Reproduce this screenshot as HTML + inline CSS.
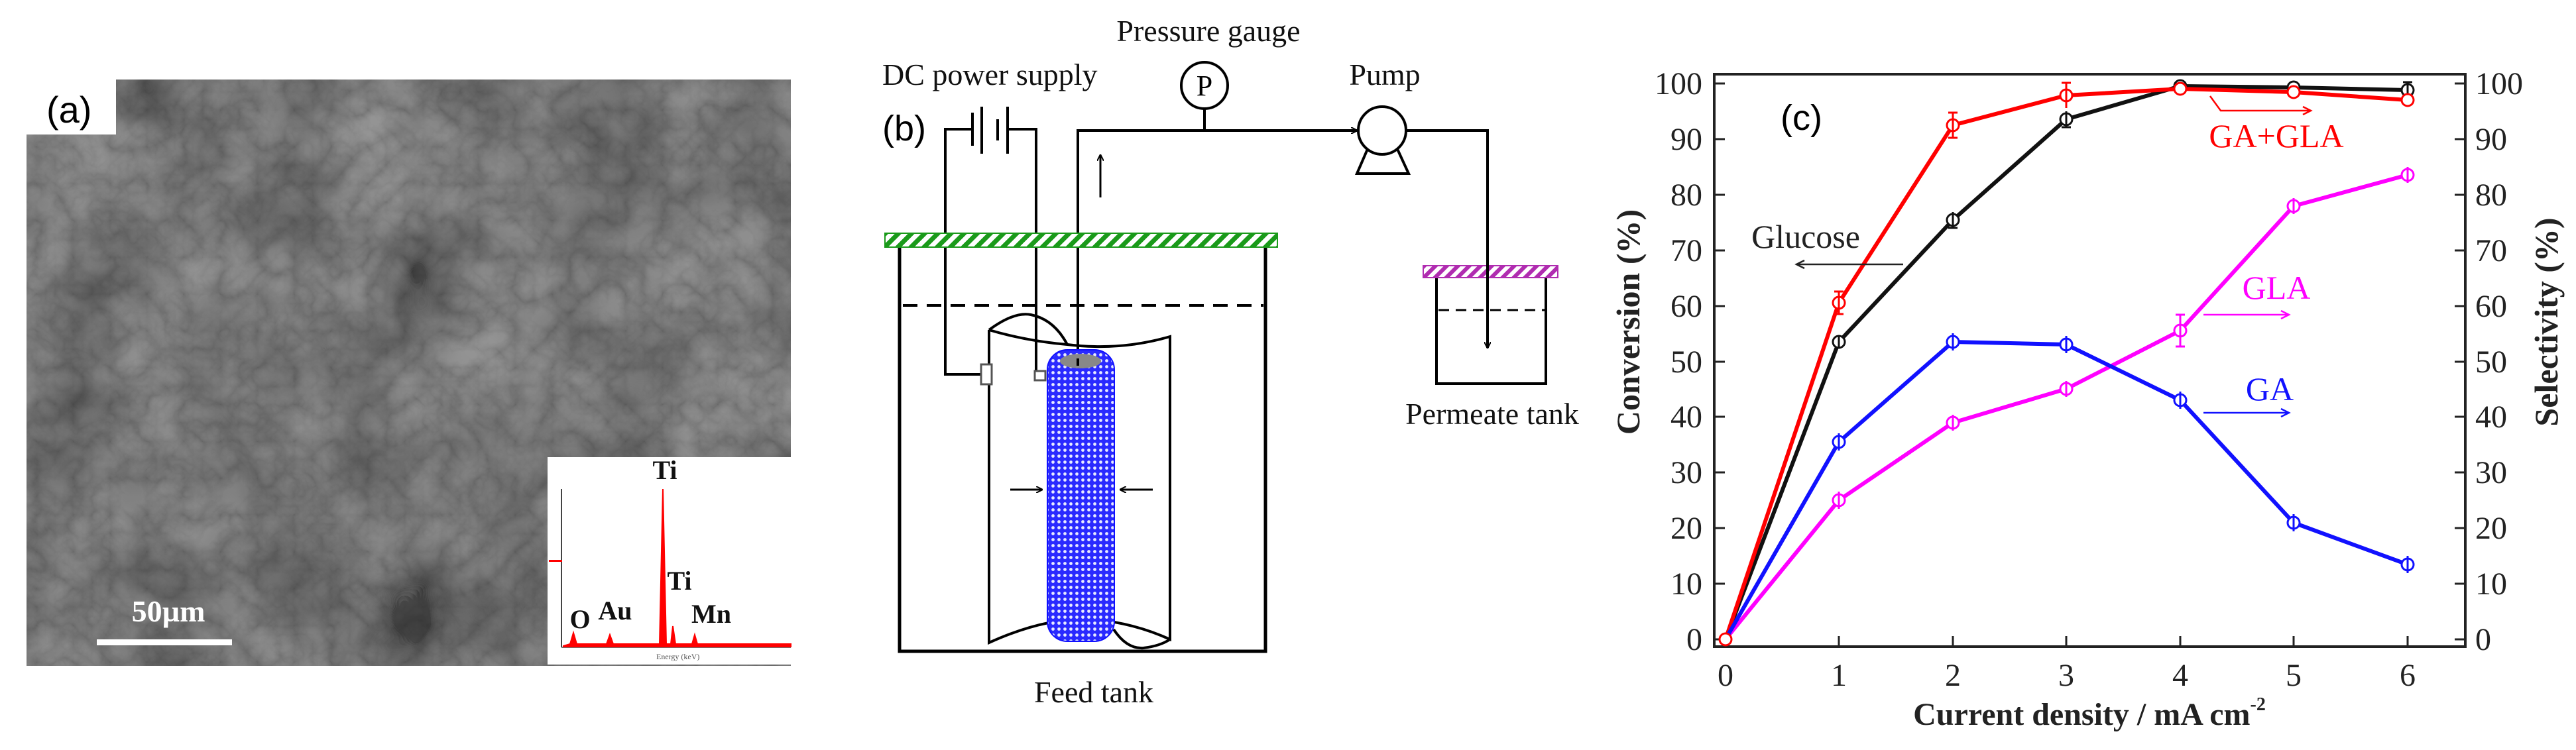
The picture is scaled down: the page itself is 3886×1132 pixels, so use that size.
<!DOCTYPE html>
<html><head><meta charset="utf-8"><style>
html,body{margin:0;padding:0;background:#fff;}
svg{display:block;}
.s{font-family:"Liberation Serif",serif;}
.a{font-family:"Liberation Sans",sans-serif;}
</style></head><body>
<svg width="3886" height="1132" viewBox="0 0 3886 1132" xmlns="http://www.w3.org/2000/svg">
<defs>
<filter id="sem" x="0" y="0" width="100%" height="100%">
<feTurbulence type="turbulence" baseFrequency="0.018" numOctaves="4" seed="7"/>
<feColorMatrix type="matrix" values="1.1 0 0 0 0.3  1.1 0 0 0 0.3  1.1 0 0 0 0.3  0 0 0 0 1"/>
</filter>
<filter id="sem2" x="0" y="0" width="100%" height="100%">
<feTurbulence type="fractalNoise" baseFrequency="0.006" numOctaves="3" seed="3"/>
<feColorMatrix type="matrix" values="1.6 0 0 0 -0.3  1.6 0 0 0 -0.3  1.6 0 0 0 -0.3  0 0 0 0 1"/>
</filter>
<pattern id="green" width="14" height="14" patternUnits="userSpaceOnUse" patternTransform="rotate(45)">
<rect width="14" height="14" fill="#fff"/><rect width="7" height="14" fill="#1a9a1a"/></pattern>
<pattern id="mag" width="12" height="12" patternUnits="userSpaceOnUse" patternTransform="rotate(45)">
<rect width="12" height="12" fill="#fff"/><rect width="6" height="12" fill="#b02cb0"/></pattern>
<pattern id="mesh" width="9" height="9" patternUnits="userSpaceOnUse">
<rect width="9" height="9" fill="#2a2aff"/><circle cx="4.5" cy="4.5" r="2.4" fill="#e8ebff"/></pattern>
<marker id="ah" markerWidth="10" markerHeight="10" refX="9" refY="5" orient="auto" markerUnits="userSpaceOnUse" viewBox="0 0 10 10">
<path d="M0,0 L10,5 L0,10" fill="none" stroke="#000" stroke-width="2"/></marker>
</defs>

<!-- (a) SEM -->
<rect x="40" y="120" width="1153" height="885" fill="#6e6e6e"/>
<rect x="40" y="120" width="1153" height="885" filter="url(#sem)" opacity="0.55" style="mix-blend-mode:multiply"/>
<rect x="40" y="120" width="1153" height="885" filter="url(#sem2)" opacity="0.35" style="mix-blend-mode:overlay"/>
<rect x="40" y="120" width="135" height="83" fill="#fff"/>
<text x="70" y="185" class="a" font-size="56">(a)</text>
<rect x="146" y="965" width="204" height="9" fill="#fff"/>
<text x="254" y="938" class="s" font-size="46" font-weight="bold" fill="#fff" text-anchor="middle">50µm</text>
<!-- inset -->
<rect x="826" y="690" width="367" height="313" fill="#fff"/>
<line x1="847" y1="738" x2="847" y2="977" stroke="#444" stroke-width="2"/>
<line x1="847" y1="977" x2="1193" y2="977" stroke="#444" stroke-width="1.5"/>
<path d="M850,975 L860,972 L865,955 L870,972 L915,972 L920,958 L925,972 L995,972 L1000,738 L1005,972 L1012,972 L1015,945 L1019,972 L1044,972 L1048,958 L1052,972 L1193,972 L1193,976 L850,976Z" fill="#f00" stroke="#f00" stroke-width="2"/>
<rect x="828" y="845" width="20" height="3" fill="#f00"/>
<text x="990" y="995" class="s" font-size="12" fill="#555">Energy (keV)</text>
<g class="s" font-weight="bold" font-size="40" text-anchor="middle" fill="#111">
<text x="1003" y="723">Ti</text><text x="1025" y="890">Ti</text><text x="875" y="948">O</text><text x="928" y="935">Au</text><text x="1073" y="940">Mn</text></g>

<!-- (b) -->
<g class="s" font-size="46" fill="#111">
<text x="1331" y="128">DC power supply</text>
<text x="1823" y="62" text-anchor="middle">Pressure gauge</text>
<text x="2089" y="128" text-anchor="middle">Pump</text>
<text x="1650" y="1060" text-anchor="middle">Feed tank</text>
<text x="2251" y="640" text-anchor="middle">Permeate tank</text>
</g>
<text x="1331" y="212" class="a" font-size="54">(b)</text>
<g stroke="#000" stroke-width="4" fill="none">
<path d="M1488,565 L1426,565 L1426,195 L1467,195"/>
<path d="M1563,570 L1563,195 L1520,195"/>
<line x1="1467" y1="170" x2="1467" y2="220"/><line x1="1481" y1="161" x2="1481" y2="232"/>
<line x1="1505" y1="180" x2="1505" y2="212"/><line x1="1520" y1="161" x2="1520" y2="232"/>
<path d="M1357,372 L1357,983 L1909,983 L1909,372" stroke-width="5"/>
<line x1="1362" y1="461" x2="1906" y2="461" stroke-dasharray="22,14"/>
<path d="M1492,498 L1492,970 Q1580,930 1650,935 Q1710,940 1765,965 L1765,508 Q1690,530 1610,520 Q1550,515 1492,498"/>
<path d="M1492,498 Q1530,470 1555,475 Q1590,482 1610,520"/>
<path d="M1680,950 Q1700,980 1725,978 Q1750,975 1765,965"/>
<path d="M1626,541 L1626,197 L2047,197" marker-end="url(#ah)"/>
<line x1="1817" y1="197" x2="1817" y2="165"/>
<circle cx="1817" cy="129" r="35" fill="#fff"/>
<line x1="1660" y1="298" x2="1660" y2="234" marker-end="url(#ah)" stroke-width="3"/>
<circle cx="2085" cy="197" r="36" fill="#fff"/>
<path d="M2063,225 L2047,262 L2125,262 L2108,225"/>
<path d="M2121,197 L2244,197 L2244,525" marker-end="url(#ah)"/>
<path d="M2167,412 L2167,579 L2332,579 L2332,412"/>
<line x1="2170" y1="468" x2="2330" y2="468" stroke-dasharray="16,10" stroke-width="3"/>
<line x1="1524" y1="739" x2="1572" y2="739" marker-end="url(#ah)" stroke-width="3"/>
<line x1="1739" y1="739" x2="1690" y2="739" marker-end="url(#ah)" stroke-width="3"/>
</g>
<text x="1817" y="144" class="s" font-size="44" text-anchor="middle">P</text>
<rect x="1580" y="528" width="101" height="440" rx="30" fill="url(#mesh)" stroke="#1010ff" stroke-width="2"/>
<ellipse cx="1630" cy="545" rx="31" ry="11" fill="#888"/>
<line x1="1626" y1="541" x2="1626" y2="552" stroke="#000" stroke-width="4"/>
<rect x="1480" y="550" width="16" height="30" fill="#fff" stroke="#555" stroke-width="3"/>
<rect x="1561" y="560" width="16" height="14" fill="#fff" stroke="#555" stroke-width="3"/>
<rect x="1335" y="352" width="592" height="21" fill="url(#green)" stroke="#1a9a1a" stroke-width="2"/>
<rect x="2147" y="401" width="203" height="18" fill="url(#mag)" stroke="#b02cb0" stroke-width="2"/>
<line x1="2244" y1="395" x2="2244" y2="425" stroke="#000" stroke-width="4"/>

<!-- (c) chart -->
<rect x="2586" y="112" width="1133" height="864" fill="none" stroke="#222" stroke-width="4"/>
<g stroke="#222" stroke-width="3">
<line x1="2586" y1="965" x2="2602" y2="965"/><line x1="2586" y1="881" x2="2602" y2="881"/><line x1="2586" y1="797" x2="2602" y2="797"/><line x1="2586" y1="713" x2="2602" y2="713"/><line x1="2586" y1="629" x2="2602" y2="629"/><line x1="2586" y1="546" x2="2602" y2="546"/><line x1="2586" y1="462" x2="2602" y2="462"/><line x1="2586" y1="378" x2="2602" y2="378"/><line x1="2586" y1="294" x2="2602" y2="294"/><line x1="2586" y1="210" x2="2602" y2="210"/><line x1="2586" y1="126" x2="2602" y2="126"/>
<line x1="3703" y1="965" x2="3719" y2="965"/><line x1="3703" y1="881" x2="3719" y2="881"/><line x1="3703" y1="797" x2="3719" y2="797"/><line x1="3703" y1="713" x2="3719" y2="713"/><line x1="3703" y1="629" x2="3719" y2="629"/><line x1="3703" y1="546" x2="3719" y2="546"/><line x1="3703" y1="462" x2="3719" y2="462"/><line x1="3703" y1="378" x2="3719" y2="378"/><line x1="3703" y1="294" x2="3719" y2="294"/><line x1="3703" y1="210" x2="3719" y2="210"/><line x1="3703" y1="126" x2="3719" y2="126"/>
<line x1="2603" y1="976" x2="2603" y2="960"/><line x1="2774" y1="976" x2="2774" y2="960"/><line x1="2946" y1="976" x2="2946" y2="960"/><line x1="3117" y1="976" x2="3117" y2="960"/><line x1="3289" y1="976" x2="3289" y2="960"/><line x1="3460" y1="976" x2="3460" y2="960"/><line x1="3632" y1="976" x2="3632" y2="960"/>
</g>
<g class="s" font-size="48" fill="#222" text-anchor="end">
<text x="2568" y="981">0</text><text x="2568" y="897">10</text><text x="2568" y="813">20</text><text x="2568" y="729">30</text><text x="2568" y="645">40</text><text x="2568" y="562">50</text><text x="2568" y="478">60</text><text x="2568" y="394">70</text><text x="2568" y="310">80</text><text x="2568" y="226">90</text><text x="2568" y="142">100</text>
</g>
<g class="s" font-size="48" fill="#222">
<text x="3734" y="981">0</text><text x="3734" y="897">10</text><text x="3734" y="813">20</text><text x="3734" y="729">30</text><text x="3734" y="645">40</text><text x="3734" y="562">50</text><text x="3734" y="478">60</text><text x="3734" y="394">70</text><text x="3734" y="310">80</text><text x="3734" y="226">90</text><text x="3734" y="142">100</text>
</g>
<g class="s" font-size="48" fill="#222" text-anchor="middle">
<text x="2603" y="1035">0</text><text x="2774" y="1035">1</text><text x="2946" y="1035">2</text><text x="3117" y="1035">3</text><text x="3289" y="1035">4</text><text x="3460" y="1035">5</text><text x="3632" y="1035">6</text>
</g>
<text x="3152" y="1094" class="s" font-size="48" font-weight="bold" text-anchor="middle" fill="#222">Current density / mA cm<tspan font-size="28" dy="-22">-2</tspan></text>
<text transform="translate(2473,486) rotate(-90)" class="s" font-size="50" font-weight="bold" text-anchor="middle" fill="#222">Conversion (%)</text>
<text transform="translate(3858,486) rotate(-90)" class="s" font-size="50" font-weight="bold" text-anchor="middle" fill="#222">Selectivity (%)</text>
<text x="2686" y="196" class="a" font-size="54">(c)</text>

<g fill="none" stroke-width="6">
<polyline stroke="#111" points="2603,965 2774,516 2946,332 3117,180 3289,130 3460,132 3632,136"/>
<polyline stroke="#f00" points="2603,965 2774,457 2946,189 3117,144 3289,134 3460,139 3632,151"/>
<polyline stroke="#f0f" points="2603,965 2774,755 2946,638 3117,587 3289,499 3460,311 3632,264"/>
<polyline stroke="#11f" points="2603,965 2774,667 2946,516 3117,520 3289,604 3460,789 3632,852"/>
</g>
<g fill="#fff" stroke-width="3">
<g stroke="#111"><circle cx="2774" cy="516" r="9"/><circle cx="2946" cy="332" r="9"/><circle cx="3117" cy="180" r="9"/><circle cx="3289" cy="130" r="9"/><circle cx="3460" cy="132" r="9"/><circle cx="3632" cy="136" r="9"/>
<path d="M2774,506v20M2946,320v24M3117,168v24M3632,124v24M3625,124h14M3625,148h14M3110,192h14M2939,344h14"/></g>
<g stroke="#f00"><circle cx="2603" cy="965" r="9"/><circle cx="2774" cy="457" r="9"/><circle cx="2946" cy="189" r="9"/><circle cx="3117" cy="144" r="9"/><circle cx="3289" cy="134" r="9"/><circle cx="3460" cy="139" r="9"/><circle cx="3632" cy="151" r="9"/>
<path d="M2774,440v34M2767,440h14M2767,474h14M2946,170v38M2939,170h14M2939,208h14M3117,125v38M3110,125h14"/></g>
<g stroke="#f0f"><circle cx="2774" cy="755" r="9"/><circle cx="2946" cy="638" r="9"/><circle cx="3117" cy="587" r="9"/><circle cx="3289" cy="499" r="9"/><circle cx="3460" cy="311" r="9"/><circle cx="3632" cy="264" r="9"/>
<path d="M2774,742v26M2946,626v24M3117,575v24M3289,475v48M3282,475h14M3282,523h14M3460,299v24M3632,252v24"/></g>
<g stroke="#11f"><circle cx="2774" cy="667" r="9"/><circle cx="2946" cy="516" r="9"/><circle cx="3117" cy="520" r="9"/><circle cx="3289" cy="604" r="9"/><circle cx="3460" cy="789" r="9"/><circle cx="3632" cy="852" r="9"/>
<path d="M2774,654v26M2946,503v26M3117,507v26M3289,591v26M3460,776v26M3632,839v26"/></g>
</g>
<g class="s" font-size="50" text-anchor="middle">
<text x="3434" y="222" fill="#f00">GA+GLA</text>
<text x="2724" y="374" fill="#222">Glucose</text>
<text x="3434" y="451" fill="#f0f">GLA</text>
<text x="3424" y="604" fill="#11f">GA</text>
</g>
<g fill="none" stroke-width="2.5">
<path d="M3334,145 L3350,167 L3486,167 M3474,161 L3486,167 L3474,173" stroke="#f00"/>
<path d="M2871,399 L2710,399 M2722,393 L2710,399 L2722,405" stroke="#222"/>
<path d="M3324,475 L3453,475 M3441,469 L3453,475 L3441,481" stroke="#f0f"/>
<path d="M3324,623 L3453,623 M3441,617 L3453,623 L3441,629" stroke="#11f"/>
</g>
</svg>
</body></html>
